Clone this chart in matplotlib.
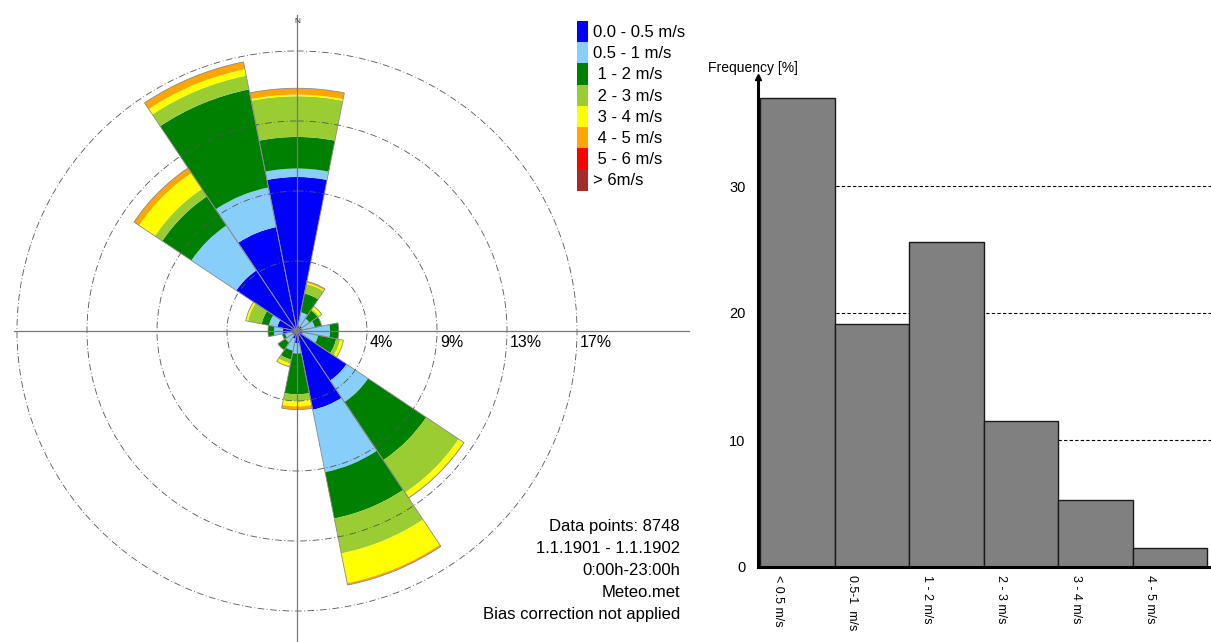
import numpy as np
import matplotlib
matplotlib.use("Agg")
import matplotlib.pyplot as plt
from matplotlib.patches import Patch

plt.rcParams["font.family"] = ["Liberation Sans", "DejaVu Sans"]

# ---- wind rose data: frequency [%] per direction sector and speed class ----
directions = ["N", "NNE", "NE", "ENE", "E", "ESE", "SE", "SSE",
              "S", "SSW", "SW", "WSW", "W", "WNW", "NW", "NNW"]
speed_labels = ["0.0 - 0.5 m/s", "0.5 - 1 m/s", " 1 - 2 m/s", " 2 - 3 m/s",
                " 3 - 4 m/s", " 4 - 5 m/s", " 5 - 6 m/s", "> 6m/s"]
speed_colors = ["#0000FF", "#87CEFA", "#008000", "#9ACD32",
                "#FFFF00", "#FFA500", "#FF0000", "#A52A2A"]

freq_0_05 = [9.46, 0.31, 0.37, 0.31, 0.31, 0.37, 3.66, 4.93,
             0.74, 0.49, 0.31, 0.31, 0.86, 1.23, 4.48, 6.51]
freq_05_1 = [0.52, 0.86, 0.55, 0.80, 1.72, 0.96, 1.59, 3.91,
             0.64, 0.74, 0.55, 0.43, 0.55, 0.52, 3.32, 2.48]
freq_1_2 = [1.94, 1.17, 0.61, 0.43, 0.53, 1.12, 4.29, 2.90,
            2.51, 0.55, 0.55, 0.18, 0.37, 0.46, 2.15, 6.14]
freq_2_3 = [2.50, 0.60, 0.09, 0.00, 0.00, 0.25, 2.40, 2.19,
            0.41, 0.25, 0.00, 0.00, 0.00, 0.86, 0.55, 0.86]
freq_3_4 = [0.10, 0.06, 0.18, 0.00, 0.00, 0.21, 0.36, 1.86,
            0.33, 0.18, 0.00, 0.00, 0.00, 0.12, 1.17, 0.40]
freq_4_5 = [0.39, 0.10, 0.03, 0.00, 0.00, 0.00, 0.04, 0.12,
            0.20, 0.03, 0.00, 0.00, 0.00, 0.02, 0.37, 0.46]
freq_5_6 = [0.0] * 16
freq_gt6 = [0.0] * 16

ring_values = [4.3, 8.6, 12.9, 17.2]
ring_labels = ["4%", "9%", "13%", "17%"]

info_lines = ["Data points: 8748", "1.1.1901 - 1.1.1902", "0:00h-23:00h",
              "Meteo.met", "Bias correction not applied"]

# ---- histogram data ----
hist_labels = ["< 0.5 m/s", "0.5-1  m/s", "1 - 2 m/s", "2 - 3 m/s",
               "3 - 4 m/s", "4 - 5 m/s"]
hist_values = [36.9, 19.1, 25.6, 11.5, 5.3, 1.5]

W, H = 1211, 642
fig = plt.figure(figsize=(W / 100, H / 100), dpi=100)

# ---------------- wind rose ----------------
cx, cy = 297, 331          # rose centre in pixels (from top-left)
rmax = 17.5
R = rmax * 16.28           # pixel radius of rmax
ax = fig.add_axes([(cx - R) / W, (H - cy - R) / H, 2 * R / W, 2 * R / H],
                  projection="polar")
ax.set_theta_zero_location("N")
ax.set_theta_direction(-1)
ax.set_ylim(0, rmax)
ax.spines["polar"].set_visible(False)
ax.set_thetagrids([])
ax.set_rgrids(ring_values, labels=[""] * len(ring_values))
ax.yaxis.grid(True, color="#555555", linewidth=0.6,
              linestyle=(0, (8, 3, 1, 3)))
ax.xaxis.grid(False)
ax.set_axisbelow(False)
ax.patch.set_alpha(0)

theta = np.deg2rad(np.arange(16) * 22.5)
width = 2 * np.pi / 16
series = [freq_0_05, freq_05_1, freq_1_2, freq_2_3,
          freq_3_4, freq_4_5, freq_5_6, freq_gt6]
bottom = np.zeros(16)
for vals, col in zip(series, speed_colors):
    vals = np.asarray(vals)
    ax.bar(theta, vals, width=width, bottom=bottom, color=col,
           edgecolor="none", linewidth=0, align="center", zorder=1)
    bottom += vals
ax.bar(theta, bottom, width=width, bottom=0, fill=False,
       edgecolor="#8a8a8a", linewidth=0.6, align="center", zorder=1.5)

# cross lines through the centre
for ang, length in [(0, 19.4), (np.pi / 2, 24.1), (np.pi, 20.5), (3 * np.pi / 2, 17.4)]:
    ax.plot([ang, ang], [0, length], color="#777777", linewidth=0.9,
            clip_on=False, zorder=3)

ax.text(0, 19.0, "N", ha="center", va="center", fontsize=6, color="#333333",
        clip_on=False)

for rv, lab in zip(ring_values, ring_labels):
    ax.annotate(lab, xy=(np.pi / 2, rv), xytext=(2, -3), textcoords="offset points",
                ha="left", va="top", fontsize=11.5, annotation_clip=False)

# legend
handles = [Patch(facecolor=c, edgecolor="none") for c in speed_colors]
fig.legend(handles, speed_labels, loc="upper left",
           bbox_to_anchor=(577 / W, 1 - 21 / H), frameon=False, fontsize=12,
           handlelength=0.66, handleheight=1.58, labelspacing=0,
           handletextpad=0.3, borderpad=0, borderaxespad=0)

# info block
for i, line in enumerate(info_lines):
    fig.text(680 / W, 1 - (527 + i * 21.8) / H, line, ha="right", va="center",
             fontsize=12)

# ---------------- histogram ----------------
unit = 74.5
x0 = 760
left_px, right_px = 758, 1211
bottom_px, top_px = 567, 77
px_per_pct = 12.7
ax2 = fig.add_axes([left_px / W, (H - bottom_px) / H,
                    (right_px - left_px) / W, (bottom_px - top_px) / H])
ax2.set_xlim((left_px - x0) / unit, (right_px - x0) / unit)
ax2.set_ylim(0, (bottom_px - top_px) / px_per_pct)
xpos = np.arange(len(hist_values))
ax2.bar(xpos, hist_values, width=1.0, align="edge", color="#808080",
        edgecolor="#1a1a1a", linewidth=1.0, zorder=2)
ax2.set_axisbelow(True)
ax2.yaxis.grid(True, color="black", linewidth=0.8, linestyle=(0, (3, 2)))
ax2.set_yticks([0, 10, 20, 30])
ax2.tick_params(axis="y", length=0, pad=9, labelsize=10.5)
ax2.set_xticks(xpos + 0.24)
ax2.set_xticklabels(hist_labels, rotation=-90, ha="center", va="top", fontsize=9)
ax2.tick_params(axis="x", length=0, pad=6)
for s in ["top", "right"]:
    ax2.spines[s].set_visible(False)
ax2.spines["left"].set_linewidth(2.2)
ax2.spines["bottom"].set_linewidth(2.2)
ax2.plot(0, 1, marker="^", color="black", markersize=5,
         transform=ax2.transAxes, clip_on=False, zorder=5)
fig.text(708 / W, 1 - 68 / H, "Frequency [%]", ha="left", va="center", fontsize=10)

fig.savefig("out.png", dpi=100)
